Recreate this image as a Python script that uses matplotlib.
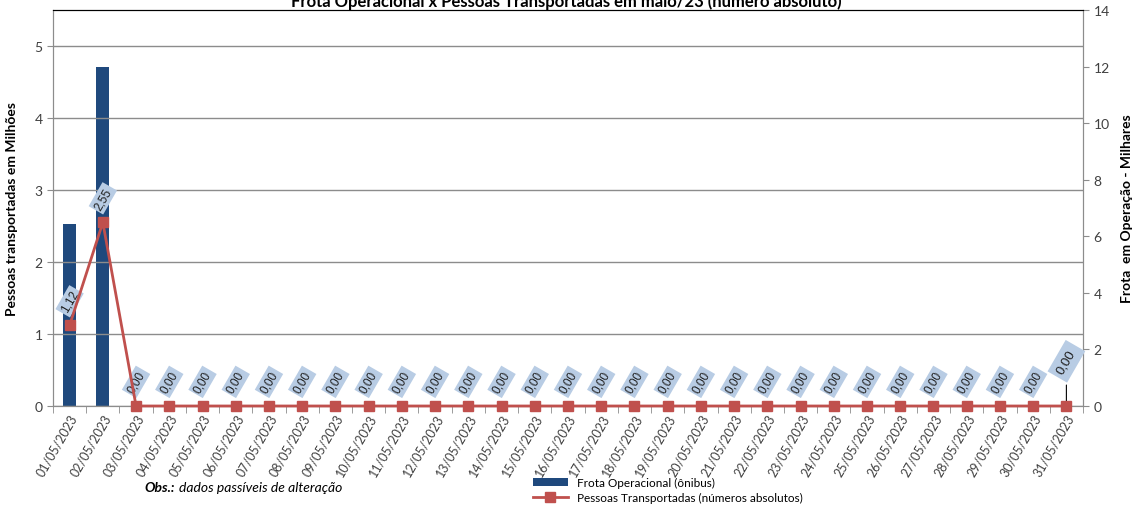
import matplotlib.pyplot as plt
import numpy as np

plt.rcParams['font.family'] = ['Lato', 'DejaVu Sans']

dias = ['%02d/05/2023' % d for d in range(1, 32)]
frota = [6.45, 12.0] + [0] * 29          # milhares de ônibus
pessoas = [1.12, 2.55] + [0.0] * 29      # milhões

x = np.arange(len(dias))

fig = plt.figure(figsize=(11.32, 5.06), dpi=100)
ax = fig.add_axes([53 / 1132, 1 - 407 / 506, 1030 / 1132, 396 / 506])
ax2 = ax.twinx()

ax2.bar(x, frota, width=0.4, color='#1f497d', label='Frota Operacional (ônibus)', zorder=2)
ax.plot(x, pessoas, color='#c0504d', lw=2, marker='s', ms=7, clip_on=False,
        label='Pessoas Transportadas (números absolutos)', zorder=5)
ax.set_zorder(ax2.get_zorder() + 1)
ax.patch.set_visible(False)

ax.set_xlim(-0.5, len(dias) - 0.5)
ax.set_ylim(0, 5.5)
ax2.set_ylim(0, 14)
ax.set_yticks(range(0, 6))
ax2.set_yticks(range(0, 15, 2))
ax.yaxis.grid(True, color='#8c8c8c', lw=1)
ax.set_axisbelow(True)

ax.set_xticks(x)
ax.set_xticklabels(dias, rotation=60, ha='right', rotation_mode='anchor', fontsize=9, color='#404040')
ax.set_xticks(np.arange(-0.5, len(dias)), minor=True)
ax.tick_params(axis='x', which='major', length=0, pad=4)
ax.tick_params(axis='x', which='minor', length=5, color='#8c8c8c')
ax.tick_params(axis='y', labelsize=10, color='#8c8c8c', labelcolor='#404040', length=4)
ax2.tick_params(axis='y', labelsize=10, color='#8c8c8c', labelcolor='#404040', length=4)

for a in (ax, ax2):
    for s in ('left', 'right', 'bottom'):
        a.spines[s].set_color('#8c8c8c')
    a.spines['top'].set_color('black')

ax.set_ylabel('Pessoas transportadas em Milhões', fontsize=10, fontweight='bold', labelpad=12)
ax2.set_ylabel('Frota  em Operação - Milhares', fontsize=10, fontweight='bold', labelpad=8)

fig.text(0.5, 0.997, 'Frota Operacional x Pessoas Transportadas em maio/23 (número absoluto)',
         ha='center', va='center', fontsize=12, fontweight='bold')

box = dict(boxstyle='square,pad=0.2', fc='#b8cce4', ec='none')
lbl_font = ['Liberation Sans', 'DejaVu Sans']
for i, v in enumerate(pessoas[:-1]):
    ax.annotate(('%.2f' % v).replace('.', ','), (i, v), xytext=(0, 8), textcoords='offset points',
                rotation=60, ha='center', va='bottom', fontsize=8.5, color='#1f1f1f', bbox=box,
                family=lbl_font)
ax.annotate(('%.2f' % pessoas[-1]).replace('.', ','), (x[-1], pessoas[-1]), xytext=(0, 22),
            textcoords='offset points', rotation=60, ha='center', va='bottom', fontsize=9.5,
            color='#1f1f1f', bbox=dict(boxstyle='square,pad=0.4', fc='#b8cce4', ec='none'),
            arrowprops=dict(arrowstyle='-', color='black', lw=0.8), family=lbl_font)

h1, l1 = ax2.get_legend_handles_labels()
h2, l2 = ax.get_legend_handles_labels()
fig.legend(h1 + h2, l1 + l2, loc='center', bbox_to_anchor=(0.59, 0.03), ncol=1, frameon=False,
           fontsize=8.5, handlelength=3, labelspacing=0.3, borderpad=0)

fig.text(0.128, 0.035, 'Obs.:', fontsize=10, fontweight='bold', style='italic', va='center')
fig.text(0.158, 0.035, 'dados passíveis de alteração', fontsize=10, style='italic', va='center')

fig.savefig('out.png', dpi=100)
